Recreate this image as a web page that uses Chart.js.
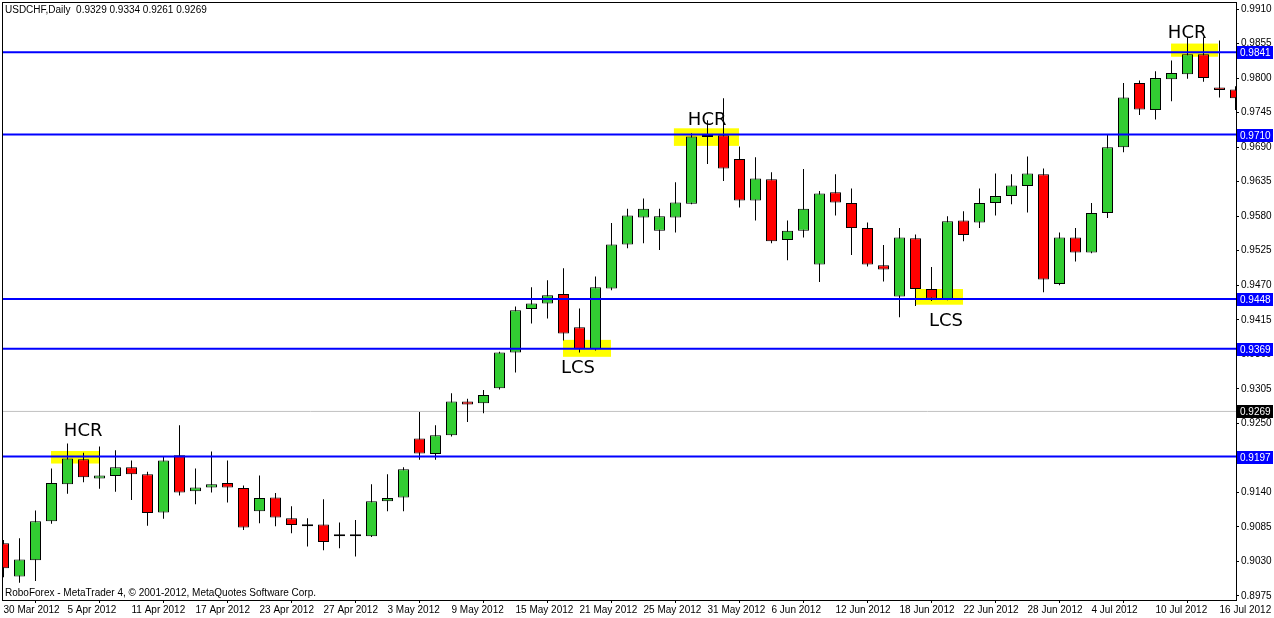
<!DOCTYPE html>
<html>
<head>
<meta charset="utf-8">
<title>USDCHF, Daily</title>
<script src="https://cdn.jsdelivr.net/npm/chart.js@4.4.1/dist/chart.umd.min.js"></script>
<style>
  html, body { margin: 0; padding: 0; background: #fff; }
  canvas { display: block; }
</style>
</head>
<body>
<canvas id="myChart" width="1274" height="618"></canvas>
<script>
// one entry per daily bar
const dates = [
  '30 Mar 2012', '2 Apr 2012', '3 Apr 2012', '4 Apr 2012', '5 Apr 2012', '6 Apr 2012', '9 Apr 2012', '10 Apr 2012',
  '11 Apr 2012', '12 Apr 2012', '13 Apr 2012', '16 Apr 2012', '17 Apr 2012', '18 Apr 2012', '19 Apr 2012', '20 Apr 2012',
  '23 Apr 2012', '24 Apr 2012', '25 Apr 2012', '26 Apr 2012', '27 Apr 2012', '30 Apr 2012', '1 May 2012', '2 May 2012',
  '3 May 2012', '4 May 2012', '7 May 2012', '8 May 2012', '9 May 2012', '10 May 2012', '11 May 2012', '14 May 2012',
  '15 May 2012', '16 May 2012', '17 May 2012', '18 May 2012', '21 May 2012', '22 May 2012', '23 May 2012', '24 May 2012',
  '25 May 2012', '28 May 2012', '29 May 2012', '30 May 2012', '31 May 2012', '1 Jun 2012', '4 Jun 2012', '5 Jun 2012',
  '6 Jun 2012', '7 Jun 2012', '8 Jun 2012', '11 Jun 2012', '12 Jun 2012', '13 Jun 2012', '14 Jun 2012', '15 Jun 2012',
  '18 Jun 2012', '19 Jun 2012', '20 Jun 2012', '21 Jun 2012', '22 Jun 2012', '25 Jun 2012', '26 Jun 2012', '27 Jun 2012',
  '28 Jun 2012', '29 Jun 2012', '2 Jul 2012', '3 Jul 2012', '4 Jul 2012', '5 Jul 2012', '6 Jul 2012', '9 Jul 2012',
  '10 Jul 2012', '11 Jul 2012', '12 Jul 2012', '13 Jul 2012', '16 Jul 2012', '17 Jul 2012'
];

const opens = [
  0.9059, 0.9006, 0.9032, 0.9094, 0.9153, 0.9193, 0.9162, 0.9166, 0.9180, 0.9169,
  0.9108, 0.9199, 0.9142, 0.9148, 0.9155, 0.9147, 0.9110, 0.9132, 0.9099, 0.9086,
  0.9089, 0.9070, 0.9070, 0.9070, 0.9126, 0.9132, 0.9226, 0.9201, 0.9231, 0.9285,
  0.9282, 0.9306, 0.9363, 0.9432, 0.9441, 0.9456, 0.9403, 0.9368, 0.9465, 0.9535,
  0.9578, 0.9557, 0.9578, 0.9600, 0.9706, 0.9709, 0.9671, 0.9605, 0.9639, 0.9542,
  0.9557, 0.9503, 0.9618, 0.9601, 0.9561, 0.9502, 0.9452, 0.9545, 0.9464, 0.9448,
  0.9573, 0.9570, 0.9601, 0.9612, 0.9628, 0.9647, 0.9472, 0.9546, 0.9522, 0.9585,
  0.9690, 0.9792, 0.9749, 0.9798, 0.9806, 0.9838, 0.9785, 0.9782
];
const highs = [
  0.9064, 0.9067, 0.9111, 0.9178, 0.9218, 0.9203, 0.9213, 0.9207, 0.9191, 0.9173,
  0.9198, 0.9247, 0.9178, 0.9205, 0.9191, 0.9151, 0.9167, 0.9139, 0.9118, 0.9099,
  0.9129, 0.9092, 0.9096, 0.9153, 0.9169, 0.9180, 0.9268, 0.9247, 0.9298, 0.9289,
  0.9303, 0.9364, 0.9436, 0.9467, 0.9478, 0.9497, 0.9433, 0.9484, 0.9569, 0.9592,
  0.9608, 0.9592, 0.9634, 0.9712, 0.9733, 0.9768, 0.9691, 0.9674, 0.9650, 0.9573,
  0.9655, 0.9620, 0.9647, 0.9624, 0.9570, 0.9534, 0.9561, 0.9551, 0.9499, 0.9580,
  0.9588, 0.9624, 0.9648, 0.9647, 0.9675, 0.9656, 0.9554, 0.9561, 0.9601, 0.9710,
  0.9792, 0.9796, 0.9811, 0.9828, 0.9865, 0.9865, 0.9860, 0.9787
];
const lows = [
  0.9005, 0.8996, 0.8999, 0.9090, 0.9138, 0.9156, 0.9146, 0.9141, 0.9128, 0.9087,
  0.9098, 0.9135, 0.9121, 0.9140, 0.9124, 0.9080, 0.9091, 0.9086, 0.9075, 0.9054,
  0.9048, 0.9051, 0.9038, 0.9069, 0.9110, 0.9110, 0.9192, 0.9192, 0.9229, 0.9252,
  0.9266, 0.9304, 0.9331, 0.9409, 0.9417, 0.9382, 0.9363, 0.9366, 0.9462, 0.9529,
  0.9537, 0.9526, 0.9554, 0.9599, 0.9663, 0.9636, 0.9594, 0.9573, 0.9537, 0.9510,
  0.9546, 0.9475, 0.9581, 0.9518, 0.9500, 0.9476, 0.9419, 0.9437, 0.9445, 0.9446,
  0.9540, 0.9561, 0.9581, 0.9599, 0.9586, 0.9459, 0.9470, 0.9508, 0.9521, 0.9577,
  0.9682, 0.9741, 0.9734, 0.9763, 0.9799, 0.9794, 0.9769, 0.9749
];
const closes = [
  0.9019, 0.9033, 0.9094, 0.9155, 0.9194, 0.9164, 0.9167, 0.9180, 0.9169, 0.9107,
  0.9191, 0.9140, 0.9148, 0.9153, 0.9148, 0.9084, 0.9131, 0.9100, 0.9088, 0.9086,
  0.9061, 0.9070, 0.9073, 0.9126, 0.9131, 0.9177, 0.9202, 0.9231, 0.9285, 0.9280,
  0.9295, 0.9363, 0.9430, 0.9441, 0.9454, 0.9393, 0.9368, 0.9467, 0.9535, 0.9581,
  0.9592, 0.9580, 0.9602, 0.9707, 0.9709, 0.9656, 0.9605, 0.9640, 0.9540, 0.9557,
  0.9592, 0.9616, 0.9602, 0.9561, 0.9503, 0.9495, 0.9546, 0.9464, 0.9449, 0.9572,
  0.9550, 0.9601, 0.9612, 0.9629, 0.9648, 0.9479, 0.9546, 0.9522, 0.9585, 0.9690,
  0.9769, 0.9750, 0.9800, 0.9808, 0.9838, 0.9800, 0.9781, 0.9768
];

// price scale labels
const yTicks = [
  0.8975, 0.9030, 0.9085, 0.9140, 0.9195, 0.9250, 0.9305, 0.9360, 0.9415,
  0.9470, 0.9525, 0.9580, 0.9635, 0.9690, 0.9745, 0.9800, 0.9855, 0.9910
];

// horizontal levels drawn by hand on the chart
const levels = [0.9841, 0.9710, 0.9448, 0.9369, 0.9197];
const bidPrice = 0.9269;

// yellow highlight boxes (bar index range, price range)
const zoneFrom = [2.97, 34.97, 41.9, 56.97, 72.97];
const zoneTo = [5.97, 37.97, 45.97, 59.97, 75.91];
const zoneHigh = [0.9206, 0.9383, 0.9720, 0.9464, 0.9855];
const zoneLow = [0.9186, 0.9356, 0.9692, 0.9439, 0.9834];

// HCR / LCS notes
const noteText = ['HCR', 'LCS', 'HCR', 'LCS', 'HCR'];
const noteAt = [4.98, 35.9, 43.98, 58.9, 73.98];
const notePrice = [0.9238, 0.9338, 0.9733, 0.9413, 0.9872];

const headerText = 'USDCHF,Daily  0.9329 0.9334 0.9261 0.9269';
const footerText = 'RoboForex - MetaTrader 4, \u00a9 2001-2012, MetaQuotes Software Corp.';

const xMin = -0.09375, xMax = 77.03125;
const yMin = 0.89686, yMax = 0.99212;

const bull = '#32CD32', bear = '#FF0000';

const wicks = lows.map((l, i) => ({ x: i, y: [l, highs[i]] }));
const bodies = opens.map((o, i) => ({ x: i, y: [Math.min(o, closes[i]), Math.max(o, closes[i])] }));
const bodyColors = opens.map((o, i) => (closes[i] >= o ? bull : bear));
const labelIdx = dates.map((d, i) => i).filter(i => i % 4 === 0);

const lineSet = (v, color, width, order) => ({
  type: 'line',
  data: [{ x: xMin, y: v }, { x: xMax, y: v }],
  borderColor: color,
  borderWidth: width,
  pointRadius: 0,
  clip: 0,
  order: order
});

const mt4 = {
  id: 'mt4',
  beforeDatasetsDraw(chart) {
    const { ctx, scales: { x, y } } = chart;
    ctx.save();
    ctx.fillStyle = '#FFFF00';
    zoneFrom.forEach((x0, i) => {
      const l = x.getPixelForValue(x0), r = x.getPixelForValue(zoneTo[i]);
      const t = y.getPixelForValue(zoneHigh[i]), b = y.getPixelForValue(zoneLow[i]);
      ctx.fillRect(l, t, r - l, b - t);
    });
    ctx.restore();
  },
  afterDraw(chart) {
    const { ctx, chartArea: a, scales: { x, y } } = chart;
    ctx.save();
    ctx.strokeStyle = '#000';
    ctx.lineWidth = 1;
    ctx.strokeRect(a.left + 0.5, a.top + 0.5, a.right - a.left, a.bottom - a.top);

    ctx.fillStyle = '#000';
    ctx.font = '18px "DejaVu Sans"';
    ctx.textAlign = 'center';
    ctx.textBaseline = 'middle';
    noteText.forEach((t, i) => ctx.fillText(t, x.getPixelForValue(noteAt[i]), y.getPixelForValue(notePrice[i])));

    ctx.font = '10px "Liberation Sans"';
    ctx.textAlign = 'left';
    ctx.textBaseline = 'top';
    ctx.fillText(headerText, a.left + 3, a.top + 3);
    ctx.textBaseline = 'bottom';
    ctx.fillText(footerText, a.left + 3, a.bottom - 2);

    const tag = (v, bg) => {
      const py = Math.round(y.getPixelForValue(v));
      ctx.fillStyle = bg;
      ctx.fillRect(a.right + 1, py - 6, 36, 13);
      ctx.fillStyle = '#fff';
      ctx.textBaseline = 'middle';
      ctx.fillText(v.toFixed(4), a.right + 4, py + 1);
    };
    levels.forEach(v => tag(v, '#0000FF'));
    tag(bidPrice, '#000000');
    ctx.restore();
  }
};

Chart.defaults.font.family = '"Liberation Sans", sans-serif';
Chart.defaults.font.size = 10;
Chart.defaults.color = '#000';

const ctx = document.getElementById('myChart').getContext('2d');
const myChart = new Chart(ctx, {
  type: 'bar',
  data: {
    datasets: [
      ...levels.map(v => lineSet(v, '#0000FF', 2, 0)),
      lineSet(bidPrice, '#C0C0C0', 1, 5),
      {
        label: 'body',
        data: bodies,
        backgroundColor: bodyColors,
        borderColor: '#000',
        borderWidth: 1,
        borderSkipped: false,
        barThickness: 11,
        minBarLength: 2,
        grouped: false,
        inflateAmount: 0,
        clip: 0,
        order: 1
      },
      {
        label: 'wick',
        data: wicks,
        backgroundColor: '#000',
        borderWidth: 0,
        barThickness: 1,
        grouped: false,
        inflateAmount: 0,
        clip: 0,
        order: 2
      }
    ]
  },
  options: {
    responsive: false,
    devicePixelRatio: 1,
    animation: false,
    events: [],
    layout: { padding: { left: 2, top: 2, right: 0, bottom: 0 } },
    plugins: { legend: { display: false }, tooltip: { enabled: false } },
    scales: {
      x: {
        type: 'linear',
        min: xMin,
        max: xMax,
        offset: false,
        afterBuildTicks: s => { s.ticks = labelIdx.map(v => ({ value: v })); },
        ticks: { autoSkip: false, maxRotation: 0, align: 'start', padding: 1, callback: v => dates[v] },
        grid: { drawOnChartArea: false, tickLength: 3, color: '#000' },
        border: { color: '#000' },
        afterFit: s => { s.height = 18; s.paddingLeft = 0; s.paddingRight = 0; }
      },
      y: {
        type: 'linear',
        position: 'right',
        min: yMin,
        max: yMax,
        afterBuildTicks: s => { s.ticks = yTicks.map(v => ({ value: v })); },
        ticks: { padding: 2, callback: v => v.toFixed(4) },
        grid: { drawOnChartArea: false, tickLength: 3, color: '#000' },
        border: { color: '#000' },
        afterFit: s => { s.width = 38; s.paddingTop = 0; s.paddingBottom = 0; }
      }
    }
  },
  plugins: [mt4]
});
</script>
</body>
</html>
